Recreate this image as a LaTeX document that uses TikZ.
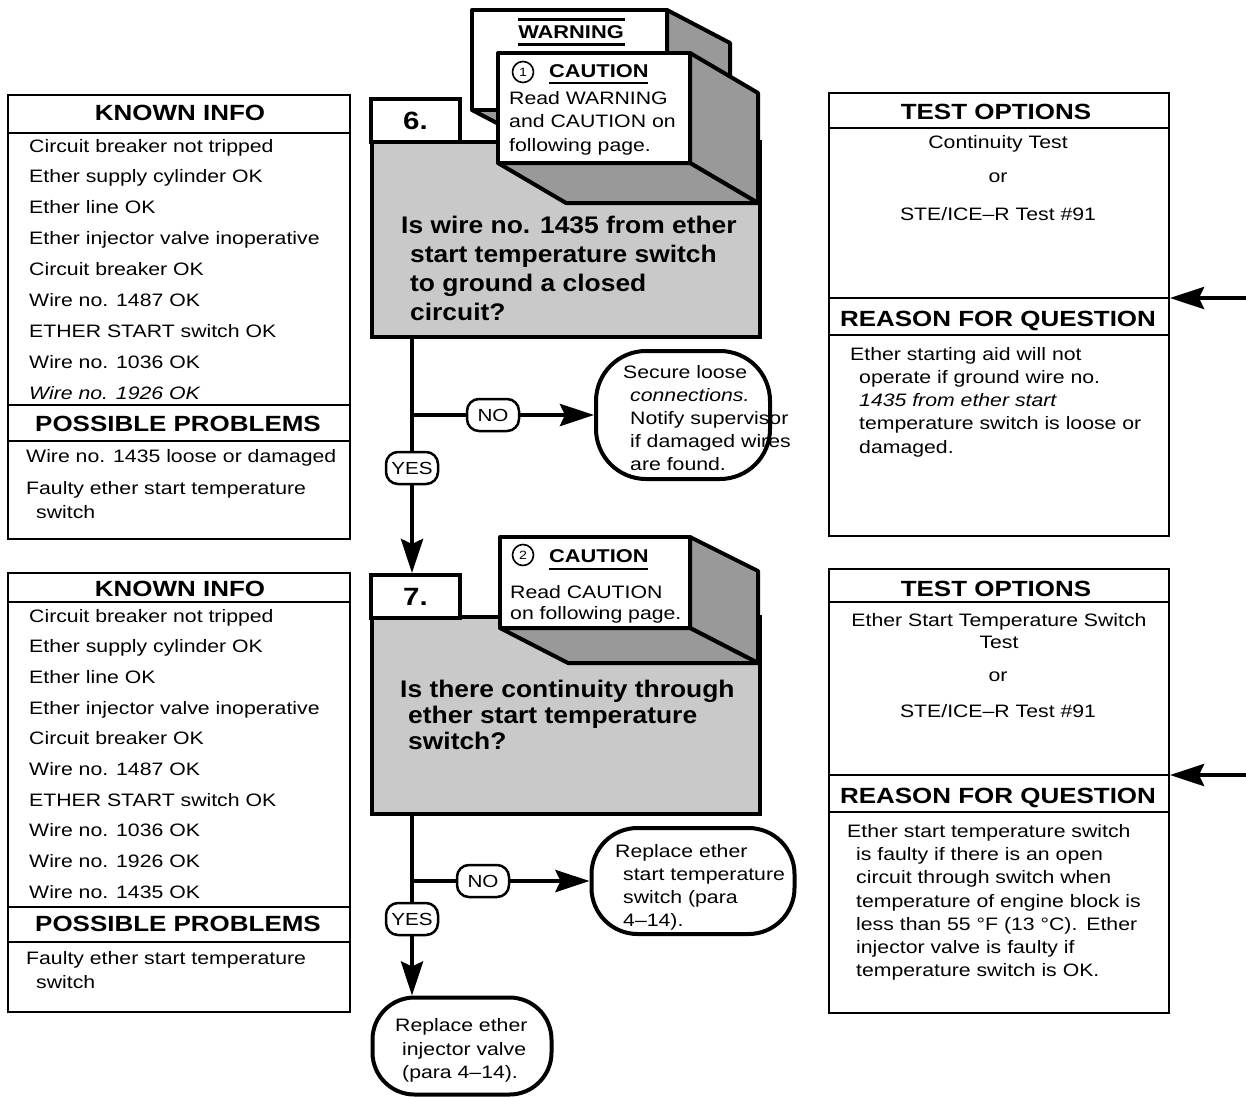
\documentclass[tikz,border=0pt]{standalone}
\usepackage{fontspec}
\setmainfont{Liberation Sans}[FakeStretch=1.18]
\newfontfamily\qfont{Liberation Sans}[FakeStretch=1.1]
\usetikzlibrary{arrows.meta}
\definecolor{panelgray}{gray}{0.79}
\definecolor{sidegray}{gray}{0.6}
\newcommand\txtbody{\fontsize{18}{22}\selectfont}
\newcommand\txthead{\fontsize{22}{26}\selectfont\bfseries}
\newcommand\txtq{\qfont\fontsize{24}{28}\selectfont\bfseries}
\newcommand\txtcau{\fontsize{18}{21}\selectfont}
\newcommand\txtcauhd{\fontsize{18.5}{21}\selectfont\bfseries}
\newcommand\txtlbl{\fontsize{17.5}{19}\selectfont}
\newcommand\txtstep{\fontsize{25}{28}\selectfont\bfseries}
\begin{document}
\begin{tikzpicture}[x=1pt,y=-1pt,
  every node/.style={inner sep=0pt},
  frame/.style={draw, line width=2pt, anchor=north west},
  rule/.style={line width=2pt},
  tx/.style={anchor=base west, font=\txtbody},
  txc/.style={anchor=base, font=\txtbody},
  hd/.style={anchor=base, font=\txthead},
  qtx/.style={anchor=base west, font=\txtq},
  ctx/.style={anchor=base west, font=\txtcau},
  stepbox/.style={draw, line width=4pt, fill=panelgray, anchor=north west, minimum width=388pt},
  tabbox/.style={draw, line width=4pt, fill=white, anchor=north west, minimum width=89pt, minimum height=43pt, font=\txtstep},
  endbox/.style={draw, line width=4pt, fill=white},
  yesno/.style={draw, line width=2.5pt, fill=white, rounded corners=12pt, font=\txtlbl, minimum width=52pt, minimum height=32pt},
  flow/.style={line width=4.5pt},
  arrowend/.style={-{Stealth[length=34pt,width=22pt,inset=5pt]}},
  face/.style={draw, line width=4pt, line join=round, fill=sidegray},
  card/.style={draw, line width=4pt, line join=round, fill=white},
  numring/.style={circle, draw, line width=1.6pt, minimum size=21pt, font=\fontsize{12}{12}\selectfont}
]
\useasboundingbox (0,0) rectangle (1246,1097);
\fill[white] (0,0) rectangle (1246,1097);

% ---------- left column: known info / possible problems ----------
\node[frame, minimum width=342pt, minimum height=444pt] (lb1) at (7,94) {};
\draw[rule] (7,133) -- (349,133);
\draw[rule] (7,405) -- (349,405);
\draw[rule] (7,441) -- (349,441);
\node[hd] (lb1h) at (180,121) {KNOWN INFO};
\foreach \t [count=\i] in {Circuit breaker not tripped, Ether supply cylinder OK, Ether line OK,
  Ether injector valve inoperative, Circuit breaker OK, Wire no. 1487 OK,
  ETHER START switch OK, Wire no. 1036 OK, {\itshape Wire no. 1926 OK}}
  \node[tx] (ka\i) at (29,{152+30.9*(\i-1)}) {\t};
\node[hd] (lb1p) at (178,431) {POSSIBLE PROBLEMS};
\node[tx] (pa1) at (26,462) {Wire no. 1435 loose or damaged};
\node[tx] (pa2) at (26,494) {Faulty ether start temperature};
\node[tx] (pa3) at (36,518) {switch};

\node[frame, minimum width=342pt, minimum height=439pt] (lb2) at (7,572) {};
\draw[rule] (7,602) -- (349,602);
\draw[rule] (7,907) -- (349,907);
\draw[rule] (7,942) -- (349,942);
\node[hd] (lb2h) at (180,596) {KNOWN INFO};
\foreach \t [count=\i] in {Circuit breaker not tripped, Ether supply cylinder OK, Ether line OK,
  Ether injector valve inoperative, Circuit breaker OK, Wire no. 1487 OK,
  ETHER START switch OK, Wire no. 1036 OK, Wire no. 1926 OK, Wire no. 1435 OK}
  \node[tx] (kb\i) at (29,{622+30.67*(\i-1)}) {\t};
\node[hd] (lb2p) at (178,931) {POSSIBLE PROBLEMS};
\node[tx] (pb1) at (26,964) {Faulty ether start temperature};
\node[tx] (pb2) at (36,988) {switch};

% ---------- right column: test options / reason ----------
\node[frame, minimum width=340pt, minimum height=443pt] (rb1) at (828,92) {};
\draw[rule] (828,128) -- (1168,128);
\draw[rule] (828,298) -- (1168,298);
\draw[rule] (828,335) -- (1168,335);
\node[hd] (rb1h) at (996,120) {TEST OPTIONS};
\node[txc] (ta1) at (998,148) {Continuity Test};
\node[txc] (ta2) at (998,182) {or};
\node[txc] (ta3) at (998,220) {STE/ICE–R Test \#91};
\node[hd] (rb1r) at (998,326) {REASON FOR QUESTION};
\node[tx] (ra1) at (850,360) {Ether starting aid will not};
\node[tx] (ra2) at (859,383) {operate if ground wire no.};
\node[tx] (ra3) at (859,406) {\itshape 1435 from ether start};
\node[tx] (ra4) at (859,429) {temperature switch is loose or};
\node[tx] (ra5) at (859,453) {damaged.};

\node[frame, minimum width=340pt, minimum height=444pt] (rb2) at (828,568) {};
\draw[rule] (828,602) -- (1168,602);
\draw[rule] (828,775) -- (1168,775);
\draw[rule] (828,812) -- (1168,812);
\node[hd] (rb2h) at (996,596) {TEST OPTIONS};
\node[txc] (tb1) at (999,626) {Ether Start Temperature Switch};
\node[txc] (tb2) at (999,648) {Test};
\node[txc] (tb3) at (998,681) {or};
\node[txc] (tb4) at (998,717) {STE/ICE–R Test \#91};
\node[hd] (rb2r) at (998,803) {REASON FOR QUESTION};
\node[tx] (rc1) at (847,837) {Ether start temperature switch};
\node[tx] (rc2) at (856,860) {is faulty if there is an open};
\node[tx] (rc3) at (856,883) {circuit through switch when};
\node[tx] (rc4) at (856,907) {temperature of engine block is};
\node[tx] (rc5) at (856,930) {less than 55 °F (13 °C).\enspace Ether};
\node[tx] (rc6) at (856,953) {injector valve is faulty if};
\node[tx] (rc7) at (856,976) {temperature switch is OK.};

% ---------- step 6 ----------
\node[stepbox, minimum height=195pt] (box6) at (370,140) {};
\node[tabbox] (tab6) at (369,97) {6.};

% warning card behind the caution card
\draw[face] (667,10) -- (730,43) -- (730,143) -- (667,110) -- cycle;
\draw[face] (472,110) -- (667,110) -- (730,143) -- (535,143) -- cycle;
\draw[card] (472,10) rectangle (667,110);
\node[anchor=base, font=\txtcauhd] (warn) at (571,39) {WARNING};
\draw[line width=3pt] (518,20) -- (625,20);
\draw[line width=3pt] (518,45) -- (625,45);

% caution card 1
\draw[face] (690,53) -- (758,93) -- (758,203) -- (690,163) -- cycle;
\draw[face] (498,163) -- (690,163) -- (758,203) -- (566,203) -- cycle;
\draw[card] (498,53) rectangle (690,163);
\node[numring] (n1) at (523,72) {1};
\node[anchor=base west, font=\txtcauhd] (cau1) at (549,78) {CAUTION};
\draw[line width=2.5pt] (549,83) -- (648,83);
\node[ctx] (c1a) at (509,105) {Read WARNING};
\node[ctx] (c1b) at (509,128) {and CAUTION on};
\node[ctx] (c1c) at (509,151) {following page.};

\node[qtx] (q6a) at (401,233) {Is wire no. 1435 from ether};
\node[qtx] (q6b) at (410,262) {start temperature switch};
\node[qtx] (q6c) at (410,291) {to ground a closed};
\node[qtx] (q6d) at (410,320) {circuit?};

% ---------- step 7 ----------
\node[stepbox, minimum height=197pt] (box7) at (370,615) {};
\node[tabbox] (tab7) at (369,573) {7.};

\draw[face] (690,537) -- (758,571) -- (758,663) -- (690,628) -- cycle;
\draw[face] (500,628) -- (690,628) -- (758,663) -- (568,663) -- cycle;
\draw[card] (500,537) rectangle (690,628);
\node[numring] (n2) at (523,555) {2};
\node[anchor=base west, font=\txtcauhd] (cau2) at (549,562) {CAUTION};
\draw[line width=2.5pt] (549,569) -- (648,569);
\node[ctx] (c2a) at (510,598) {Read CAUTION};
\node[ctx] (c2b) at (510,619) {on following page.};

\node[qtx] (q7a) at (400,697) {Is there continuity through};
\node[qtx] (q7b) at (408,723) {ether start temperature};
\node[qtx] (q7c) at (408,749) {switch?};

% ---------- outcomes ----------
\node[endbox, rounded corners=50pt, minimum width=174pt, minimum height=128pt] (term1) at (683,415) {};
\node[tx] (t1a) at (623,378) {Secure loose};
\node[tx, font=\txtbody\itshape] (t1b) at (630,401) {connections.};
\node[tx] (t1c) at (630,424) {Notify supervisor};
\node[tx] (t1d) at (630,447) {if damaged wires};
\node[tx] (t1e) at (630,470) {are found.};

\node[endbox, rounded corners=46pt, minimum width=203pt, minimum height=106pt] (term2) at (693,881) {};
\node[tx] (t2a) at (615,857) {Replace ether};
\node[tx] (t2b) at (623,880) {start temperature};
\node[tx] (t2c) at (623,903) {switch (para};
\node[tx] (t2d) at (623,926) {4–14).};

\node[endbox, rounded corners=42pt, minimum width=179pt, minimum height=97pt] (term3) at (462,1046) {};
\node[tx] (t3a) at (395,1031) {Replace ether};
\node[tx] (t3b) at (402,1055) {injector valve};
\node[tx] (t3c) at (402,1078) {(para 4–14).};

% ---------- decision labels ----------
\node[yesno] (no6) at (493,415) {NO};
\node[yesno] (yes6) at (412,468) {YES};
\node[yesno] (no7) at (483,881) {NO};
\node[yesno] (yes7) at (412,919) {YES};

% ---------- connectors ----------
\coordinate (j6) at (yes6 |- no6);
\draw[flow] (yes6 |- box6.south) -- (yes6.north);
\draw[flow] (j6) -- (no6.west);
\draw[flow, arrowend] (no6.east) -- (term1.west);
\draw[flow, arrowend] (yes6.south) -- (yes6.south |- tab7.north);

\coordinate (j7) at (yes7 |- no7);
\draw[flow] (yes7 |- box7.south) -- (yes7.north);
\draw[flow] (j7) -- (no7.west);
\draw[flow, arrowend] (no7.east) -- (term2.west);
\draw[flow, arrowend] (yes7.south) -- (yes7.south |- term3.north);

\coordinate (src1) at (1246,298);
\coordinate (src2) at (1246,775);
\draw[flow, arrowend] (src1) -- (src1 -| rb1.east);
\draw[flow, arrowend] (src2) -- (src2 -| rb2.east);
\end{tikzpicture}
\end{document}
